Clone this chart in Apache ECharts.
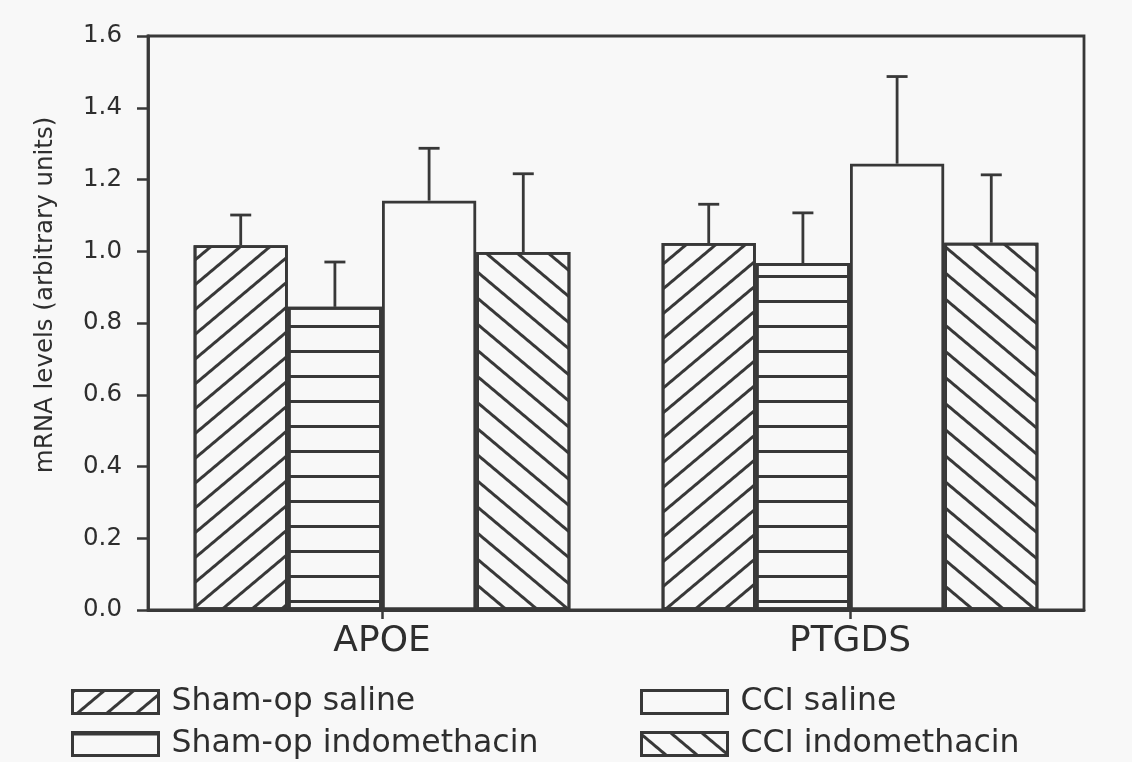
<!DOCTYPE html>
<html><head><meta charset="utf-8">
<script src="https://cdn.jsdelivr.net/npm/echarts@6/dist/echarts.min.js"></script>
<style>html,body{margin:0;padding:0;background:#f8f8f8}#c{width:1132px;height:762px}</style>
</head><body><div id="c"></div>
<script>
const categories = ['APOE', 'PTGDS'];
const seriesNames = ['Sham-op saline', 'Sham-op indomethacin', 'CCI saline', 'CCI indomethacin'];
const shamSaline = [1.017, 1.023];
const shamSalineErr = [0.084, 0.108];
const shamIndo = [0.845, 0.967];
const shamIndoErr = [0.125, 0.140];
const cciSaline = [1.141, 1.244];
const cciSalineErr = [0.146, 0.243];
const cciIndo = [0.998, 1.024];
const cciIndoErr = [0.218, 0.189];
const yMin = 0, yMax = 1.6, yStep = 0.2;

const INK = '#383838';
const TXT = '#2e2e2e';
const FONT = 'DejaVu Sans';
const GAP = 0.195;

const values = [shamSaline, shamIndo, cciSaline, cciIndo];
const errors = [shamSalineErr, shamIndoErr, cciSalineErr, cciIndoErr];

const decals = [
  { symbol: 'rect', dashArrayX: [1, 0], dashArrayY: [2.5, 16], rotation: -Math.PI * 40 / 180, color: INK, backgroundColor: null },
  { symbol: 'rect', dashArrayX: [1, 0], dashArrayY: [2.5, 21.8], rotation: 0, color: INK, backgroundColor: null },
  null,
  { symbol: 'rect', dashArrayX: [1, 0], dashArrayY: [2.5, 16.5], rotation: Math.PI * 40 / 180, color: INK, backgroundColor: null }
];

const barSeries = seriesNames.map((name, i) => {
  const s = {
    name: name,
    type: 'bar',
    data: values[i],
    barGap: '0%',
    barCategoryGap: (GAP * 100) + '%',
    itemStyle: { color: '#f8f8f8', borderColor: INK, borderWidth: 2.8 },
    emphasis: { disabled: true },
    z: 2
  };
  if (decals[i]) s.itemStyle.decal = decals[i];
  return s;
});

const errData = [];
values.forEach((vals, s) => {
  vals.forEach((v, c) => { errData.push([c, v, v + errors[s][c], s]); });
});

const errSeries = {
  type: 'custom',
  name: 'err',
  data: errData,
  z: 5,
  silent: true,
  renderItem: function (params, api) {
    const c = api.value(0), v = api.value(1), top = api.value(2), s = api.value(3);
    const band = api.size([1, 0])[0];
    const bw = band * (1 - GAP) / 4;
    const center = api.coord([c, v]);
    const x = center[0] + (s - 1.5) * bw;
    const y0 = center[1];
    const y1 = api.coord([c, top])[1];
    const cap = 10.5;
    const st = { stroke: INK, lineWidth: 2.8 };
    return {
      type: 'group',
      children: [
        { type: 'line', shape: { x1: x, y1: y0, x2: x, y2: y1 }, style: st },
        { type: 'line', shape: { x1: x - cap, y1: y1, x2: x + cap, y2: y1 }, style: st }
      ]
    };
  }
};

const legendCommon = {
  orient: 'vertical',
  icon: 'rect',
  itemWidth: 86,
  itemHeight: 23,
  itemGap: 10,
  padding: 0,
  selectedMode: false,
  itemStyle: { borderColor: INK, borderWidth: 3 },
  textStyle: { fontFamily: FONT, fontSize: 31.5, color: TXT, lineHeight: 30, padding: [0, 0, 0, 8] }
};

const chart = echarts.init(document.getElementById('c'), null, { renderer: 'canvas' });
chart.setOption({
  backgroundColor: '#f8f8f8',
  animation: false,
  grid: { left: 148, right: 48, top: 36, bottom: 152, show: true, borderColor: INK, borderWidth: 2.8, backgroundColor: 'transparent' },
  legend: [
    Object.assign({}, legendCommon, { left: 71, top: 686, data: [seriesNames[0], seriesNames[1]] }),
    Object.assign({}, legendCommon, { left: 640, top: 686, data: [seriesNames[2], seriesNames[3]] })
  ],
  xAxis: {
    type: 'category',
    data: categories,
    axisLine: { lineStyle: { color: INK, width: 2.8 } },
    axisTick: { show: true, alignWithLabel: true, length: 9, lineStyle: { color: INK, width: 2.5 } },
    axisLabel: { fontFamily: FONT, fontSize: 36, color: TXT, margin: 14 },
    splitLine: { show: false }
  },
  yAxis: {
    type: 'value',
    min: yMin, max: yMax, interval: yStep,
    name: 'mRNA levels (arbitrary units)',
    nameLocation: 'middle',
    nameGap: 90,
    nameTextStyle: { fontFamily: FONT, fontSize: 24.5, color: TXT, padding: [0, 0, 0, 56] },
    axisLine: { show: true, lineStyle: { color: INK, width: 2.8 } },
    axisTick: { show: true, length: 11, lineStyle: { color: INK, width: 2.5 } },
    axisLabel: { fontFamily: FONT, fontSize: 24.5, color: TXT, margin: 26, formatter: v => v.toFixed(1) },
    splitLine: { show: false }
  },
  series: barSeries.concat([errSeries])
});
</script></body></html>
